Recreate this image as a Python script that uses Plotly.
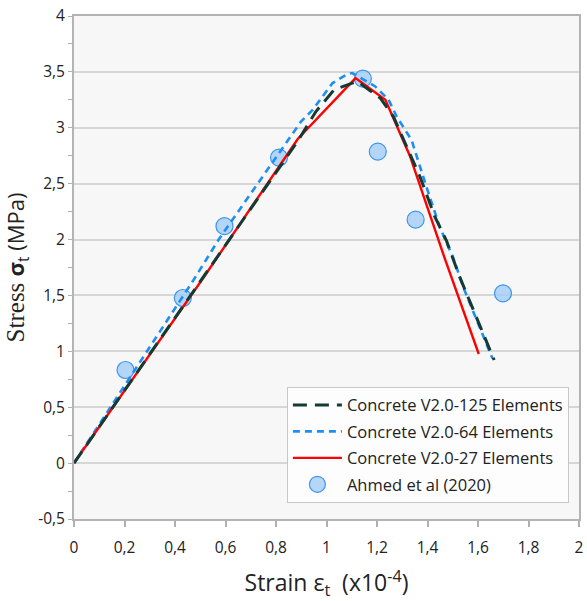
import plotly.graph_objects as go

# Stress-strain response of concrete in tension (strain in x10^-4, stress in MPa)
strain_125 = [0, 0.488, 0.886, 0.958, 1.03, 1.122, 1.213, 1.265, 1.331, 1.37, 1.429, 1.475, 1.527, 1.664]
stress_125 = [0, 1.59, 2.88, 3.145, 3.34, 3.415, 3.265, 3.10, 2.77, 2.563, 2.205, 1.99, 1.668, 0.922]

strain_64 = [0, 0.193, 0.474, 0.573, 0.80, 0.899, 0.945, 1.024, 1.082, 1.102, 1.193, 1.246,
             1.278, 1.337, 1.396, 1.448, 1.50, 1.546, 1.657]
stress_64 = [0, 0.668, 1.64, 2.0, 2.73, 3.055, 3.16, 3.40, 3.48, 3.49, 3.37, 3.25,
             3.10, 2.89, 2.47, 2.115, 1.847, 1.55, 0.937]

strain_27 = [0, 0.507, 0.886, 1.115, 1.233, 1.33, 1.47, 1.603]
stress_27 = [0, 1.64, 2.90, 3.444, 3.25, 2.75, 1.82, 0.976]

strain_exp = [0.204, 0.431, 0.596, 0.812, 1.144, 1.203, 1.353, 1.699]
stress_exp = [0.833, 1.477, 2.12, 2.733, 3.44, 2.787, 2.178, 1.519]

x_ticks = [0, 0.2, 0.4, 0.6, 0.8, 1.0, 1.2, 1.4, 1.6, 1.8, 2.0]
x_labels = ["0", "0,2", "0,4", "0,6", "0,8", "1", "1,2", "1,4", "1,6", "1,8", "2"]
y_ticks = [-0.5, 0, 0.5, 1, 1.5, 2, 2.5, 3, 3.5, 4]
y_labels = ["-0,5", "0", "0,5", "1", "1,5", "2", "2,5", "3", "3,5", "4"]

fig = go.Figure()

fig.add_trace(go.Scatter(
    x=strain_exp, y=stress_exp, mode="markers", name="Ahmed et al (2020)",
    legendgroup="d", legendrank=4,
    marker=dict(size=17, color="rgba(160,204,248,0.8)",
                line=dict(color="#3d95ec", width=1.2)),
))
fig.add_trace(go.Scatter(
    x=strain_64, y=stress_64, mode="lines", name="Concrete V2.0-64 Elements",
    legendgroup="b", legendrank=2,
    line=dict(color="#1f8ef1", width=2.6, dash="7px,5px"),
))
fig.add_trace(go.Scatter(
    x=strain_27, y=stress_27, mode="lines", name="Concrete V2.0-27 Elements",
    legendgroup="c", legendrank=3,
    line=dict(color="#ff0000", width=2.4),
))
fig.add_trace(go.Scatter(
    x=strain_125, y=stress_125, mode="lines", name="Concrete V2.0-125 Elements",
    legendgroup="a", legendrank=1,
    line=dict(color="#133a35", width=3, dash="14px,8px"),
))

fig.update_layout(
    width=587, height=601,
    margin=dict(l=74, r=3, t=16, b=82),
    paper_bgcolor="white",
    plot_bgcolor="#f7f7f7",
    font=dict(family="Open Sans", size=15, color="#222222"),
    showlegend=True,
    legend=dict(
        x=0.4216, y=0.263, xanchor="left", yanchor="top",
        bgcolor="#fdfdfd", bordercolor="#c8c8c8", borderwidth=1,
        font=dict(family="Open Sans", size=16.5, color="#222222"),
        traceorder="grouped", tracegroupgap=2, itemwidth=49,
    ),
    xaxis=dict(
        range=[0, 2], tickvals=x_ticks, ticktext=x_labels, ticks="outside", ticklen=6,
        tickcolor="#b0b0b0", tickwidth=1.5, ticklabelstandoff=7,
        showgrid=False, zeroline=False,
        showline=True, linecolor="#b4b4b4", linewidth=2, mirror=True,
        tickfont=dict(size=15.5),
        title=dict(text="Strain ε<sub>t</sub>  (x10<sup>-4</sup>)",
                   font=dict(family="Open Sans", size=23, color="#222222"),
                   standoff=20),
    ),
    yaxis=dict(
        range=[-0.5, 4], tickvals=y_ticks, ticktext=y_labels, ticks="outside", ticklen=4,
        tickcolor="#b0b0b0", tickwidth=1.2,
        minor=dict(dtick=0.25, ticks="outside", ticklen=4, tickcolor="#b0b0b0", showgrid=False),
        showgrid=True, gridcolor="#d6d6d6", gridwidth=1.5, zeroline=False,
        showline=True, linecolor="#b4b4b4", linewidth=2, mirror=True,
        tickfont=dict(size=15.5),
        title=dict(text='<span style="font-family:Liberation Serif;font-size:25px">Stress </span>'
                        '<b>σ</b><sub>t</sub> (MPa)',
                   font=dict(family="Open Sans", size=22, color="#222222"),
                   standoff=10),
    ),
)

fig.write_html("out.html")
